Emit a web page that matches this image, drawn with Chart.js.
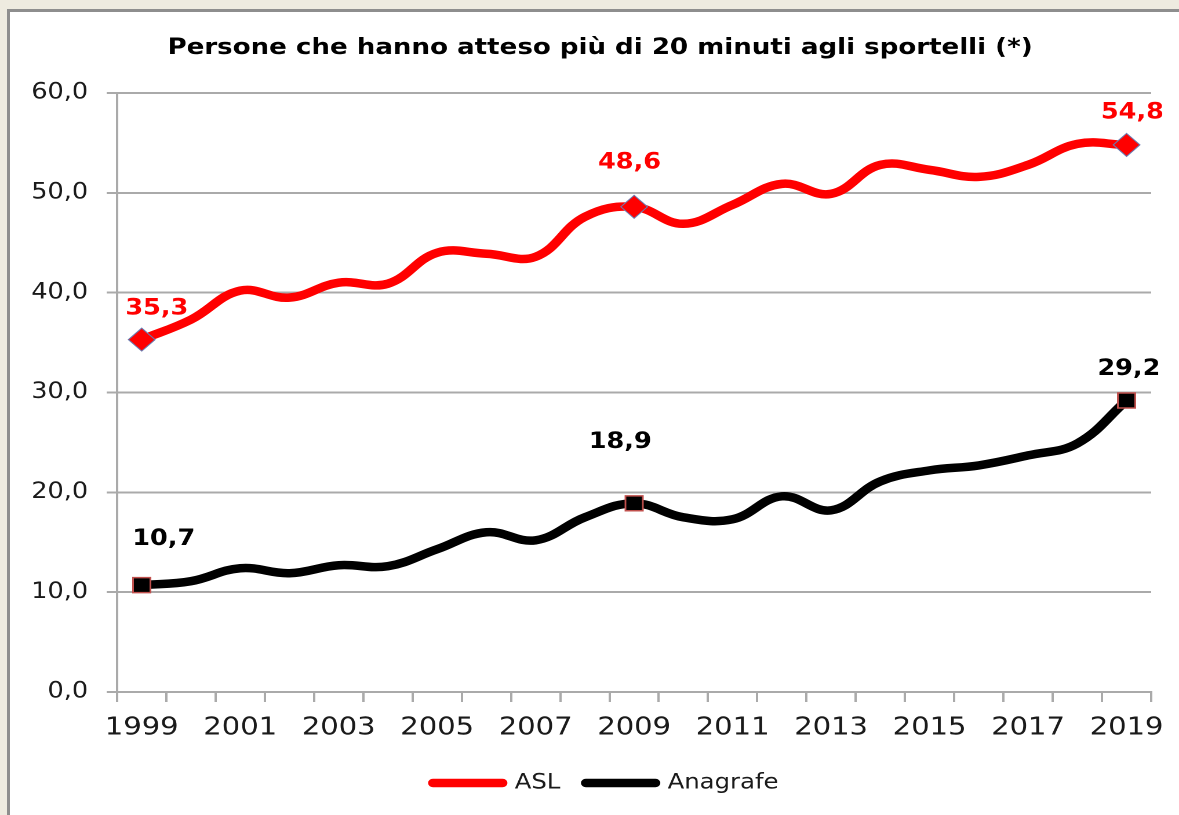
<!DOCTYPE html>
<html>
<head>
<meta charset="utf-8">
<script src="https://cdn.jsdelivr.net/npm/chart.js@4.4.1/dist/chart.umd.min.js"></script>
<style>
  html, body { margin:0; padding:0; }
  body { width:1179px; height:815px; overflow:hidden; background:#EEEBE0; position:relative; }
  #panel { position:absolute; left:7px; top:9px; width:1300px; height:900px; background:#ffffff;
           border-left:3px solid #8e8e8e; border-top:3px solid #8e8e8e; }
  #wrap { position:absolute; left:0; top:0; width:1017px; height:815px;
          transform:scaleX(1.1593); transform-origin:0 0; }
</style>
</head>
<body>
<div id="panel"></div>
<div id="wrap"><canvas id="c" width="1017" height="815"></canvas></div>
<script>
// ---- data ----
const years = ['1999','2000','2001','2002','2003','2004','2005','2006','2007','2008','2009',
               '2010','2011','2012','2013','2014','2015','2016','2017','2018','2019'];
const asl = [35.3, 37.3, 40.2, 39.5, 41.0, 40.9, 44.0, 43.9, 43.6, 47.6, 48.6,
             46.9, 48.8, 50.9, 49.9, 52.8, 52.3, 51.6, 52.8, 54.9, 54.8];
const anagrafe = [10.7, 11.1, 12.4, 11.9, 12.7, 12.6, 14.3, 16.0, 15.2, 17.5, 18.9,
                  17.5, 17.3, 19.6, 18.2, 21.1, 22.2, 22.7, 23.7, 24.9, 29.2];
const seriesNames = ['ASL', 'Anagrafe'];
const labelledIdx = [0, 10, 20];
const chartTitle = 'Persone che hanno atteso più di 20 minuti agli sportelli (*)';

// ---- styling ----
const FONT = 'DejaVu Sans';
const seriesColors = ['#ff0000', '#000000'];
const labelOffsets = [
  [[13, -31], [-4, -44], [5, -32]],
  [[19, -46], [-12, -61], [2, -31]]
];
const fmt = v => v.toFixed(1).replace('.', ',');
const radiusFor = r => years.map((_, i) => labelledIdx.includes(i) ? r : 0);
const TITLE_CENTER = 517.6, LEGEND_CENTER = 522.5;

const pointLabels = {
  id: 'pointLabels',
  afterLayout(chart) {
    const t = chart.titleBlock;
    if (t) { t.left = 2 * TITLE_CENTER - t.right; }
    const l = chart.legend;
    if (l) { l.left = 2 * LEGEND_CENTER - l.right; }
  },
  afterDatasetsDraw(chart) {
    const ctx = chart.ctx;
    ctx.save();
    ctx.font = 'bold 22px "' + FONT + '"';
    ctx.textAlign = 'center';
    ctx.textBaseline = 'middle';
    chart.data.datasets.forEach((ds, di) => {
      const meta = chart.getDatasetMeta(di);
      ctx.fillStyle = seriesColors[di];
      labelledIdx.forEach((idx, k) => {
        const el = meta.data[idx];
        const off = labelOffsets[di][k];
        ctx.fillText(fmt(ds.data[idx]), el.x + off[0], el.y + off[1]);
      });
    });
    ctx.restore();
  }
};

new Chart(document.getElementById('c'), {
  type: 'line',
  data: {
    labels: years,
    datasets: [
      {
        label: seriesNames[0], data: asl,
        borderColor: seriesColors[0], backgroundColor: seriesColors[0],
        borderWidth: 8.5, borderCapStyle: 'round', borderJoinStyle: 'round',
        tension: 0.4, fill: false,
        pointStyle: 'rectRot', pointRadius: radiusFor(11.5), pointHoverRadius: radiusFor(11.5),
        pointBackgroundColor: '#ff0000', pointBorderColor: '#6b7bb0', pointBorderWidth: 1
      },
      {
        label: seriesNames[1], data: anagrafe,
        borderColor: seriesColors[1], backgroundColor: seriesColors[1],
        borderWidth: 8.5, borderCapStyle: 'round', borderJoinStyle: 'round',
        tension: 0.4, fill: false,
        pointStyle: 'rect', pointRadius: radiusFor(10.6), pointHoverRadius: radiusFor(10.6),
        pointBackgroundColor: '#000000', pointBorderColor: '#c0504d', pointBorderWidth: 1.5
      }
    ]
  },
  options: {
    responsive: false,
    animation: false,
    devicePixelRatio: 2,
    layout: { padding: { left: 10, right: 24, top: 0, bottom: 11.5 } },
    plugins: {
      title: {
        display: true, text: chartTitle, color: '#000',
        font: { family: FONT, size: 22.5, weight: 'bold' },
        padding: { top: 34.5, bottom: 31.5 }
      },
      legend: {
        display: true, position: 'bottom',
        labels: {
          usePointStyle: true, pointStyle: 'line', pointStyleWidth: 60,
          color: '#1a1a1a', font: { family: FONT, size: 21 }, padding: 22,
          generateLabels: chart => Chart.defaults.plugins.legend.labels.generateLabels(chart)
            .map((it, i) => Object.assign(it, {
              strokeStyle: seriesColors[i], fillStyle: seriesColors[i],
              lineWidth: 8.5, lineCap: 'round', pointStyle: 'line'
            }))
        }
      },
      tooltip: { enabled: false }
    },
    scales: {
      x: {
        type: 'category',
        offset: true,
        afterFit: s => { s.height = 58.5; },
        grid: { display: true, drawOnChartArea: false, drawTicks: true, tickLength: 10,
                offset: true, color: '#aaaaaa', lineWidth: 2 },
        border: { display: true, color: '#aaaaaa', width: 2 },
        ticks: {
          autoSkip: false, maxRotation: 0, minRotation: 0, padding: 11,
          color: '#1a1a1a', font: { family: FONT, size: 25 },
          callback: (v, i) => (i % 2 === 0 ? years[i] : '')
        }
      },
      y: {
        min: 0, max: 60,
        afterFit: s => { s.width = 91; },
        grid: { color: '#aaaaaa', lineWidth: 2, drawTicks: true, tickLength: 9 },
        border: { display: true, color: '#aaaaaa', width: 2 },
        ticks: {
          stepSize: 10, padding: 16, color: '#1a1a1a',
          font: { family: FONT, size: 22 },
          callback: v => fmt(v)
        }
      }
    }
  },
  plugins: [pointLabels]
});
</script>
</body>
</html>
